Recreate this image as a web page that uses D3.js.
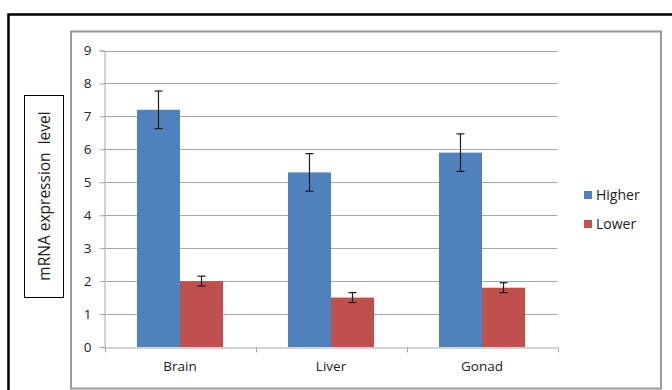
<!DOCTYPE html>
<html><head><meta charset="utf-8">
<script src="https://cdn.jsdelivr.net/npm/d3@7"></script>
<style>body{margin:0;background:#fff}svg{display:block}</style>
</head><body>
<script>
const categories = ["Brain", "Liver", "Gonad"];
const seriesNames = ["Higher", "Lower"];
const higherValues = [7.2, 5.3, 5.9];
const higherErrors = [0.57, 0.57, 0.57];
const lowerValues = [2.0, 1.5, 1.8];
const lowerErrors = [0.15, 0.15, 0.15];
const yTicks = [0, 1, 2, 3, 4, 5, 6, 7, 8, 9];
const colors = ["#4f81bd", "#c0504d"];

const W = 672, H = 390;
const svg = d3.select("body").append("svg").attr("width", W).attr("height", H);
const font = "'Open Sans', sans-serif";

// outer black frame
svg.append("path").attr("d", `M8.5,${H + 5} V14.5 H${W + 5}`).attr("fill", "none").attr("stroke", "#000").attr("stroke-width", 2.5);
// inner grey frame
svg.append("rect").attr("x", 71).attr("y", 31.5).attr("width", 590).attr("height", 357)
  .attr("fill", "none").attr("stroke", "#9a9a9a").attr("stroke-width", 2);

const x0 = d3.scaleBand().domain(categories).range([104.5, 557.5]);
const x1 = d3.scaleBand().domain(seriesNames).range([x0.bandwidth() * 0.215, x0.bandwidth() * 0.785]);
const y = d3.scaleLinear().domain([0, 9]).range([347, 50.5]);

// gridlines
svg.append("g").selectAll("line").data(yTicks.filter(d => d > 0)).join("line")
  .attr("x1", 104.5).attr("x2", 557.5).attr("y1", d => Math.round(y(d)) + 0.5).attr("y2", d => Math.round(y(d)) + 0.5)
  .attr("stroke", "#a6a6a6").attr("stroke-width", 1);

// y axis
const yAxis = svg.append("g").attr("transform", "translate(104.5,0)")
  .call(d3.axisLeft(y).tickValues(yTicks).tickSize(5).tickPadding(8).tickFormat(d3.format("d")));
yAxis.select(".domain").attr("stroke", "#a6a6a6");
yAxis.selectAll(".tick line").attr("stroke", "#a6a6a6");
yAxis.selectAll("text").attr("font-family", font).attr("font-size", 13.5).attr("fill", "#222");

// x axis
const xAxis = svg.append("g").attr("transform", `translate(0,${Math.round(y(0)) + 0.5})`)
  .call(d3.axisBottom(x0).tickSize(0).tickPadding(14));
xAxis.select(".domain").attr("stroke", "#a6a6a6");
xAxis.selectAll("text").attr("font-family", font).attr("font-size", 13.5).attr("fill", "#222");
// category divider ticks
const edges = [x0.range()[0]].concat(categories.map(c => x0(c) + x0.bandwidth()));
xAxis.append("g").selectAll("line").data(edges).join("line")
  .attr("x1", d => Math.round(d) + 0.5).attr("x2", d => Math.round(d) + 0.5).attr("y1", 0).attr("y2", 5)
  .attr("stroke", "#a6a6a6");

const data = [];
categories.forEach((c, i) => {
  data.push({cat: c, s: "Higher", v: higherValues[i], e: higherErrors[i], col: colors[0]});
  data.push({cat: c, s: "Lower", v: lowerValues[i], e: lowerErrors[i], col: colors[1]});
});

svg.append("g").selectAll("rect").data(data).join("rect")
  .attr("x", d => x0(d.cat) + x1(d.s)).attr("width", x1.bandwidth())
  .attr("y", d => y(d.v)).attr("height", d => y(0) - y(d.v))
  .attr("fill", d => d.col);

// error bars
const eg = svg.append("g").attr("stroke", "#1a1a1a").attr("stroke-width", 1.2);
data.forEach(d => {
  const cx = x0(d.cat) + x1(d.s) + x1.bandwidth() / 2;
  eg.append("line").attr("x1", cx).attr("x2", cx).attr("y1", y(d.v + d.e)).attr("y2", y(d.v - d.e));
  eg.append("line").attr("x1", cx - 4).attr("x2", cx + 4).attr("y1", y(d.v + d.e)).attr("y2", y(d.v + d.e));
  eg.append("line").attr("x1", cx - 4).attr("x2", cx + 4).attr("y1", y(d.v - d.e)).attr("y2", y(d.v - d.e));
});

// legend
const lg = svg.append("g");
seriesNames.forEach((s, i) => {
  const ly = 191 + i * 29;
  lg.append("rect").attr("x", 584).attr("y", ly).attr("width", 8).attr("height", 8).attr("fill", colors[i]);
  lg.append("text").attr("x", 596).attr("y", ly + 4).attr("dy", "0.35em").text(s)
    .attr("font-family", font).attr("font-size", 14).attr("fill", "#222");
});

// y-axis title box
svg.append("rect").attr("x", 24.5).attr("y", 95.5).attr("width", 39).attr("height", 202)
  .attr("fill", "#fff").attr("stroke", "#000").attr("stroke-width", 1);
svg.append("text").attr("transform", "translate(49.5,196) rotate(-90)").attr("text-anchor", "middle")
  .attr("font-family", font).attr("font-size", 15.5).attr("fill", "#222")
  .attr("xml:space", "preserve").style("white-space", "pre").text("mRNA expression  level");
</script>
</body></html>
